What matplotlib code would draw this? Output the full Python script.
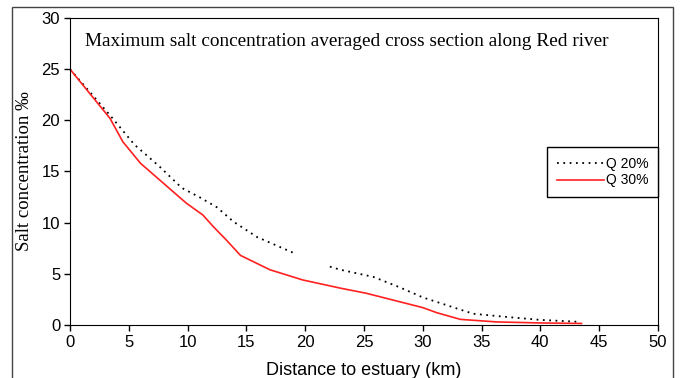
import numpy as np
import matplotlib
matplotlib.use("Agg")
import matplotlib.pyplot as plt
from matplotlib.patches import Rectangle

# Q 20% (dotted), gap between ~19 and ~22 km
dist_q20 = [0, 3.4, 5.5, 7.6, 9.5, 11.0, 12.5, 13.9, 15.9, 17.5, 19.1, np.nan,
            22.1, 23.0, 25.8, 28.0, 30.0, 33.2, 34.3, 37.0, 40.0, 43.4]
salt_q20 = [25.0, 20.5, 17.6, 15.5, 13.4, 12.5, 11.5, 10.1, 8.6, 7.8, 7.0, np.nan,
            5.7, 5.4, 4.7, 3.7, 2.7, 1.5, 1.1, 0.8, 0.5, 0.3]

# Q 30% (solid red)
dist_q30 = [0, 3.4, 4.5, 6.0, 8.0, 9.9, 11.3, 12.2, 13.3, 14.5, 17.0, 19.8, 23.0,
            25.2, 30.0, 31.2, 33.2, 36.3, 40.0, 43.5]
salt_q30 = [25.0, 20.2, 17.9, 15.8, 13.8, 11.9, 10.75, 9.6, 8.3, 6.8, 5.4, 4.4, 3.6,
            3.1, 1.7, 1.2, 0.55, 0.3, 0.2, 0.15]

x_ticks = list(range(0, 51, 5))
y_ticks = list(range(0, 31, 5))

fig = plt.figure(figsize=(6.8, 3.78), dpi=100)
ax = fig.add_axes([0.1029, 0.1402, 0.8647, 0.8122])

ax.plot(dist_q20, salt_q20, color="black", linestyle=(0, (1, 2.5)), linewidth=1.3, label="Q 20%")
ax.plot(dist_q30, salt_q30, color="#ff2020", linewidth=1.2, label="Q 30%")

ax.set_xlim(0, 50)
ax.set_ylim(0, 30)
ax.set_xticks(x_ticks)
ax.set_yticks(y_ticks)
ax.tick_params(direction="out", length=4, width=1, labelsize=12, pad=3)
for lbl in ax.get_xticklabels() + ax.get_yticklabels():
    lbl.set_fontfamily("Liberation Sans")

ax.set_xlabel("Distance to estuary (km)", fontfamily="Liberation Sans", fontsize=13, labelpad=9)
ax.set_ylabel("Salt concentration \u2030", fontfamily="Liberation Serif", fontsize=13.5, labelpad=6)

ax.text(0.026, 0.925, "Maximum salt concentration averaged cross section along Red river",
        transform=ax.transAxes, fontfamily="Liberation Serif", fontsize=13.9, va="center", ha="left")

leg = ax.legend(loc="upper right", bbox_to_anchor=(1.0, 0.58), borderaxespad=0, frameon=True,
                fancybox=False, edgecolor="black", framealpha=1, handlelength=3.4,
                handletextpad=0.1, borderpad=0.7, labelspacing=0.2,
                prop={"family": "Liberation Sans", "size": 10})
leg.get_frame().set_linewidth(1.0)

# outer frame around the chart
fig.patches.append(Rectangle((12 / 680, -0.05), 661 / 680, 1 - 7 / 378 + 0.05,
                             transform=fig.transFigure, fill=False, edgecolor="#444444",
                             linewidth=1.0))

fig.savefig("out.png", dpi=100)
